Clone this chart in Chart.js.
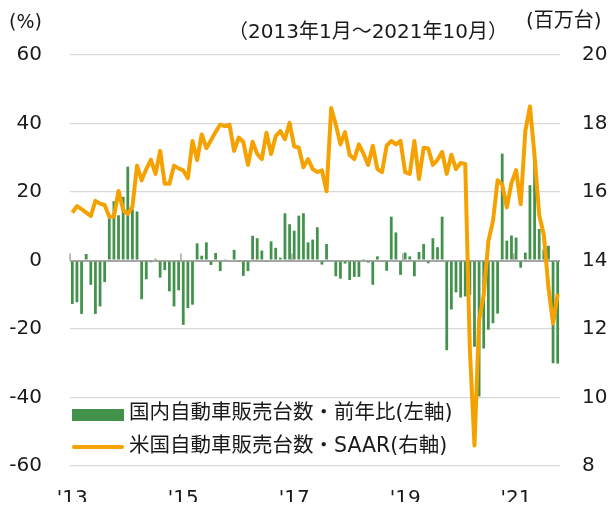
<!DOCTYPE html>
<html>
<head>
<meta charset="utf-8">
<script src="https://cdn.jsdelivr.net/npm/chart.js@4/dist/chart.umd.min.js"></script>
<style>
  html, body { margin: 0; padding: 0; background: #ffffff; }
  #wrap { position: relative; width: 611px; height: 506px; }
</style>
</head>
<body>
<div id="wrap"><canvas id="c" width="611" height="506"></canvas></div>
<script>
// Categories: Jan 2013 .. Oct 2021 (monthly)
const startYear = 2013, endYear = 2021, endMonth = 10;
const months = [];
for (let y = startYear; y <= endYear; y++) {
  for (let m = 1; m <= 12; m++) {
    if (y === endYear && m > endMonth) break;
    months.push(y + '年' + m + '月');
  }
}

// Japan domestic auto sales, YoY % (left axis)
const japanYoY = [
  -12.7, -12.2, -15.6, 1.9, -7.1, -15.6, -13.4, -6.3, 12.3, 17.3, 13.2, 18.6,
  27.4, 15.0, 14.3, -11.3, -5.5, -0.5, 0.5, -5.0, -2.8, -9.0, -13.4, -8.7,
  -18.8, -13.9, -12.9, 5.0, 1.4, 5.3, -1.3, 2.2, -3.1, 0.2, 0.3, 3.1,
  -0.2, -4.5, -3.1, 7.2, 6.5, 2.9, -0.2, 5.6, 3.7, 0.8, 13.8, 10.6,
  8.7, 13.1, 13.8, 5.3, 6.1, 9.7, -1.2, 4.8, 0.3, -4.6, -5.3, -0.9,
  -5.7, -4.8, -4.8, 0.4, -0.6, -7.1, 1.2, -0.2, -3.0, 12.8, 8.2, -4.2,
  2.3, 1.2, -4.6, 2.5, 4.8, -0.8, 6.5, 3.9, 12.8, -26.2, -14.3, -9.3,
  -10.8, -10.5, -10.0, -25.2, -39.7, -25.7, -20.2, -18.3, -15.5, 31.2, 5.8, 7.3,
  6.7, -2.1, 2.3, 22.0, 30.0, 9.2, 3.2, 4.3, -30.0, -30.1
];

// US auto sales SAAR, million units (right axis)
const usSAAR = [
  15.40, 15.59, 15.50, 15.40, 15.30, 15.74, 15.66, 15.62, 15.28, 15.28, 16.03, 15.47,
  15.36, 15.57, 16.77, 16.34, 16.67, 16.94, 16.53, 17.20, 16.24, 16.24, 16.77, 16.69,
  16.63, 16.40, 17.49, 16.93, 17.68, 17.28, 17.51, 17.75, 17.97, 17.92, 17.97, 17.20,
  17.59, 17.46, 16.79, 17.47, 17.11, 16.96, 17.73, 17.11, 17.63, 17.78, 17.54, 18.02,
  17.33, 17.30, 16.72, 16.96, 16.67, 16.58, 16.63, 16.02, 18.45, 17.97, 17.39, 17.75,
  17.08, 16.96, 17.39, 17.11, 16.79, 17.35, 16.67, 16.58, 17.35, 17.49, 17.39, 17.49,
  16.58, 16.53, 17.49, 16.38, 17.29, 17.27, 16.79, 16.94, 17.17, 16.53, 17.09, 16.67,
  16.85, 16.82, 11.40, 8.60, 12.25, 13.00, 14.56, 15.15, 16.34, 16.22, 15.55, 16.26,
  16.64, 15.64, 17.78, 18.50, 17.06, 15.33, 14.75, 13.21, 12.16, 13.03
];

// Axis tick labels
const yearTickIndex = [0, 24, 48, 72, 96];
const yearTickLabels = ["'13", "'15", "'17", "'19", "'21"];
const seriesNames = ['国内自動車販売台数・前年比(左軸)', '米国自動車販売台数・SAAR(右軸)'];
const leftUnit = '(%)';
const rightUnit = '(百万台)';
const periodText = '（2013年1月～2021年10月）';

const GREEN = '#43924B';
const ORANGE = '#F5A200';
const TEXT = '#1a1a1a';
const FONT = "'DejaVu Sans', 'Noto Sans CJK JP', sans-serif";
const CJKFONT = "'DejaVu Sans', 'Noto Sans CJK JP', sans-serif";

const extras = {
  id: 'extras',
  afterDatasetsDraw(chart) {
    const ctx = chart.ctx;
    const xs = chart.scales.x, ys = chart.scales.y;
    const y0 = ys.getPixelForValue(0);
    ctx.save();
    // tick marks on zero axis at every second year boundary
    ctx.strokeStyle = '#A6A6A6';
    ctx.lineWidth = 1.5;
    yearTickIndex.forEach(i => {
      let x;
      if (i === 0) x = xs.left;
      else x = (xs.getPixelForValue(i - 1) + xs.getPixelForValue(i)) / 2;
      ctx.beginPath();
      ctx.moveTo(x, y0 - 7);
      ctx.lineTo(x, y0);
      ctx.stroke();
    });
    ctx.restore();
  },
  afterDraw(chart) {
    const ctx = chart.ctx;
    ctx.save();
    ctx.fillStyle = TEXT;
    ctx.textBaseline = 'middle';
    ctx.textAlign = 'left';
    ctx.font = '19px ' + CJKFONT;
    ctx.fillText(leftUnit, 9, 23);
    ctx.font = '20px ' + CJKFONT;
    ctx.fillText(rightUnit, 526, 22);
    ctx.textAlign = 'center';
    ctx.fillText(periodText, 368, 33);
    // legend
    ctx.textAlign = 'left';
    ctx.fillStyle = GREEN;
    ctx.fillRect(72, 409, 52, 12);
    ctx.strokeStyle = ORANGE;
    ctx.lineWidth = 4;
    ctx.lineCap = 'round';
    ctx.beginPath();
    ctx.moveTo(74, 447);
    ctx.lineTo(122, 447);
    ctx.stroke();
    ctx.fillStyle = TEXT;
    ctx.font = '20.5px ' + CJKFONT;
    ctx.fillText(seriesNames[0], 129, 414);
    ctx.fillText(seriesNames[1], 129, 447);
    ctx.restore();
  }
};

new Chart(document.getElementById('c'), {
  type: 'bar',
  data: {
    labels: months,
    datasets: [
      {
        type: 'line',
        label: seriesNames[1],
        data: usSAAR,
        yAxisID: 'y1',
        borderColor: ORANGE,
        borderWidth: 4,
        pointRadius: 0,
        tension: 0,
        fill: false,
        order: 0,
        borderJoinStyle: 'round'
      },
      {
        type: 'bar',
        label: seriesNames[0],
        data: japanYoY,
        yAxisID: 'y',
        backgroundColor: GREEN,
        barPercentage: 0.6,
        categoryPercentage: 1.0,
        order: 1
      }
    ]
  },
  options: {
    responsive: false,
    animation: false,
    devicePixelRatio: 1,
    layout: { padding: { left: 0, right: 0, top: 55, bottom: 0 } },
    plugins: {
      legend: { display: false },
      tooltip: { enabled: false },
      title: { display: false }
    },
    scales: {
      x: {
        type: 'category',
        offset: true,
        grid: { display: false },
        border: { display: false },
        ticks: {
          autoSkip: false,
          maxRotation: 0,
          minRotation: 0,
          padding: 13,
          color: TEXT,
          font: { family: FONT, size: 20 },
          callback: (v, i) => {
            const k = yearTickIndex.indexOf(i);
            return k >= 0 ? yearTickLabels[k] : '';
          }
        },
        afterFit: s => { s.height = 36; }
      },
      y: {
        position: 'left',
        min: -60, max: 60,
        grid: {
          color: c => (c.tick && c.tick.value === 0) ? '#A6A6A6' : '#D9D9D9',
          lineWidth: c => (c.tick && c.tick.value === 0) ? 2 : 1.2,
          drawTicks: false
        },
        border: { display: false },
        ticks: {
          stepSize: 20,
          padding: 28,
          color: TEXT,
          font: { family: FONT, size: 20 }
        },
        afterFit: s => { s.width = 70; }
      },
      y1: {
        position: 'right',
        min: 8, max: 20,
        grid: { drawOnChartArea: false, drawTicks: false },
        border: { display: false },
        ticks: {
          stepSize: 2,
          padding: 22,
          color: TEXT,
          font: { family: FONT, size: 20 }
        },
        afterFit: s => { s.width = 51; }
      }
    }
  },
  plugins: [extras]
});
</script>
</body>
</html>
